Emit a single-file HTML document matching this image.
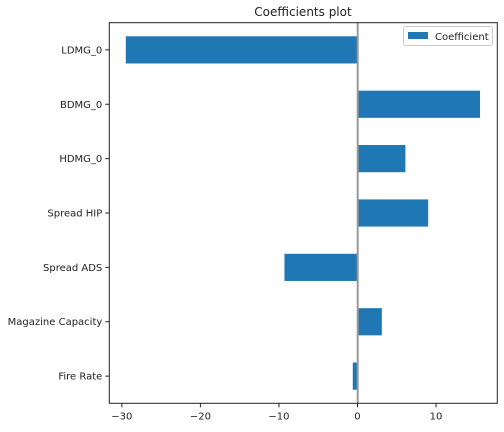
<!DOCTYPE html>
<html><head><meta charset="utf-8"><style>
body{margin:0;background:#fff;font-family:"Liberation Sans","DejaVu Sans",sans-serif}
svg text{font-family:"DejaVu Sans","Liberation Sans",sans-serif;font-size:10px;fill:#222}
</style></head><body>
<svg id="chart" width="504" height="427">
<text x="303" y="16" text-anchor="middle" style="font-size:12px">Coefficients plot</text>
<g id="bars"></g><g id="yticks"></g><g id="xticks"></g>
<line x1="357.7" x2="357.7" y1="22.7" y2="403.3" stroke="#999" stroke-width="2"/>
<rect x="109.3" y="22.7" width="388" height="380.6" fill="none" stroke="#222" stroke-width="1"/>
<g>
<rect x="403.5" y="26.5" width="89" height="19" rx="2" fill="#fff" stroke="#ccc"/>
<rect x="408" y="32" width="20" height="7" fill="#1f77b4"/>
<text x="435" y="40">Coefficient</text>
</g>
</svg>
<script>
const categories=["LDMG_0","BDMG_0","HDMG_0","Spread HIP","Spread ADS","Magazine Capacity","Fire Rate"];
const values=[-29.5,15.6,6.1,9.0,-9.3,3.1,-0.6];
const xTicks=[-30,-20,-10,0,10];
const xMin=-31.6,xMax=17.8,L=109.3,R=497.3,T=22.7,B=403.3;
const ns="http://www.w3.org/2000/svg";
const xs=v=>L+(v-xMin)/(xMax-xMin)*(R-L);
const band=(B-T)/categories.length;
const ys=i=>T+band*(i+0.5);
function mk(t,a,p){const e=document.createElementNS(ns,t);for(const k in a)e.setAttribute(k,a[k]);p.appendChild(e);return e;}
const gb=document.getElementById('bars'),gy=document.getElementById('yticks'),gx=document.getElementById('xticks');
categories.forEach((c,i)=>{
 const v=values[i],x0=xs(Math.min(0,v)),x1=xs(Math.max(0,v));
 const r=mk('rect',{x:x0,y:ys(i)-band*0.25,width:x1-x0,height:band*0.5,fill:'#1f77b4'},gb);
 
 
 mk('line',{x1:L-4,x2:L,y1:ys(i),y2:ys(i),stroke:'#222'},gy);
 const t=mk('text',{x:L-7,y:ys(i)+3.5,'text-anchor':'end'},gy);t.textContent=c;
 
 
});
xTicks.forEach(v=>{
 mk('line',{x1:xs(v),x2:xs(v),y1:B,y2:B+4,stroke:'#222'},gx);
 const t=mk('text',{x:xs(v),y:B+16,'text-anchor':'middle'},gx);t.textContent=v<0?'\u2212'+Math.abs(v):v;
 
 
});
</script>
</body></html>
